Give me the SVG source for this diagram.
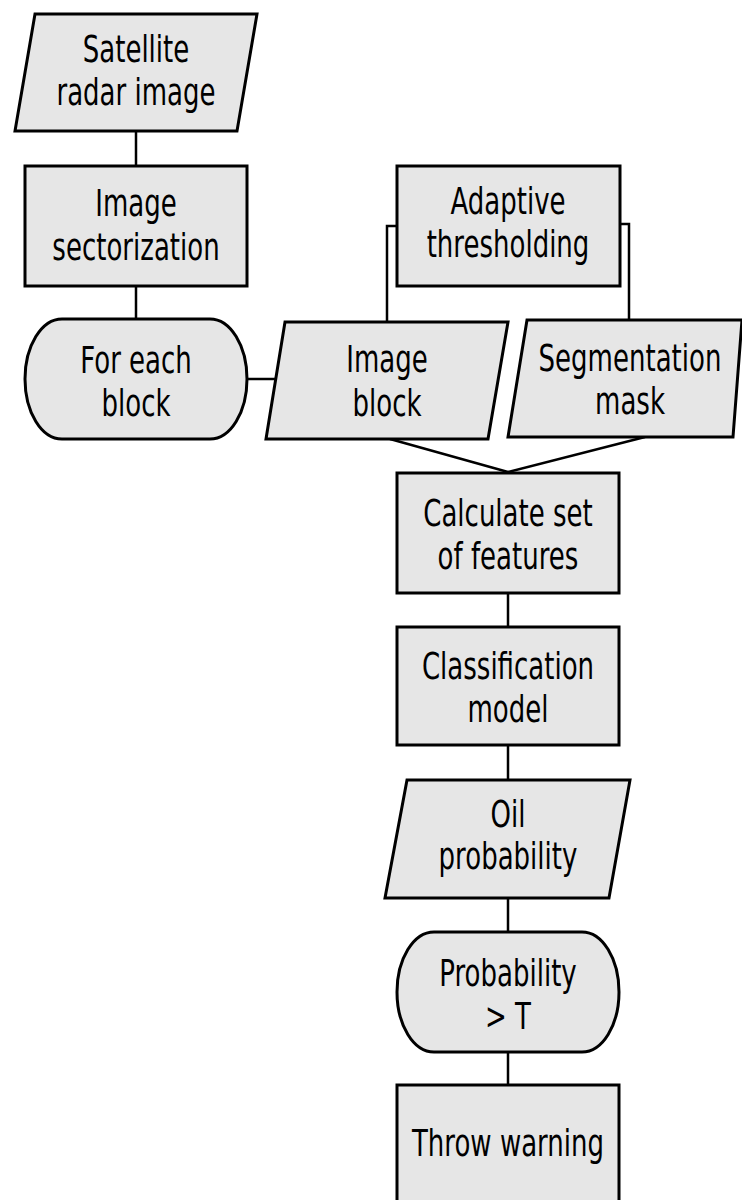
<svg xmlns="http://www.w3.org/2000/svg" width="742" height="1200" viewBox="0 0 742 1200">
<style>
.s{fill:#e6e6e6;stroke:#000;stroke-width:3;stroke-linejoin:miter}
.c{fill:none;stroke:#000;stroke-width:2.5}
text{font-family:"DejaVu Sans",sans-serif;font-size:38px;text-anchor:middle;fill:#000}
</style>
<rect width="742" height="1200" fill="#fff"/>
<g id="connectors">
<line class="c" x1="136" y1="132" x2="136" y2="166"/>
<line class="c" x1="136" y1="286" x2="136" y2="320"/>
<line class="c" x1="248" y1="379" x2="276" y2="379"/>
<polyline class="c" points="387,322 387,226 397,226"/>
<polyline class="c" points="629,320 629,224 620,224"/>
<line class="c" x1="390" y1="439" x2="508" y2="472"/>
<line class="c" x1="645" y1="437" x2="508" y2="472"/>
<line class="c" x1="508" y1="593" x2="508" y2="627"/>
<line class="c" x1="508" y1="745" x2="508" y2="780"/>
<line class="c" x1="508" y1="898" x2="508" y2="932"/>
<line class="c" x1="508" y1="1052" x2="508" y2="1085"/>
</g>
<g id="n1">
<polygon class="s" points="35,14 257,14 237,131 15,131"/>
<g transform="translate(136,0) scale(0.685,1)"><text x="0" y="62">Satellite</text><text x="0" y="105">radar image</text></g>
</g>
<g id="n2">
<rect class="s" x="25" y="166" width="222" height="120"/>
<g transform="translate(136,0) scale(0.685,1)"><text x="0" y="216">Image</text><text x="0" y="260">sectorization</text></g>
</g>
<g id="n3">
<rect class="s" x="25" y="319" width="222" height="120" rx="37" ry="60"/>
<g transform="translate(136,0) scale(0.685,1)"><text x="0" y="373">For each</text><text x="0" y="416">block</text></g>
</g>
<g id="n4">
<polygon class="s" points="285,322 508,322 488,439 266,439"/>
<g transform="translate(387,0) scale(0.685,1)"><text x="0" y="372">Image</text><text x="0" y="416">block</text></g>
</g>
<g id="n5">
<rect class="s" x="397" y="166" width="223" height="120"/>
<g transform="translate(508,0) scale(0.685,1)"><text x="0" y="214">Adaptive</text><text x="0" y="257">thresholding</text></g>
</g>
<g id="n6">
<polygon class="s" points="527,320 742,320 733,437 508,437"/>
<g transform="translate(630,0) scale(0.685,1)"><text x="0" y="371">Segmentation</text><text x="0" y="414">mask</text></g>
</g>
<g id="n7">
<rect class="s" x="397" y="473" width="222" height="120"/>
<g transform="translate(508,0) scale(0.685,1)"><text x="0" y="526">Calculate set</text><text x="0" y="569">of features</text></g>
</g>
<g id="n8">
<rect class="s" x="397" y="627" width="222" height="118"/>
<g transform="translate(508,0) scale(0.685,1)"><text x="0" y="679">Classification</text><text x="0" y="722">model</text></g>
</g>
<g id="n9">
<polygon class="s" points="407,780 630,780 609,898 385,898"/>
<g transform="translate(508,0) scale(0.685,1)"><text x="0" y="827">Oil</text><text x="0" y="869">probability</text></g>
</g>
<g id="n10">
<rect class="s" x="397" y="932" width="222" height="120" rx="37" ry="60"/>
<g transform="translate(508,0) scale(0.685,1)"><text x="0" y="986">Probability</text><text x="0" y="1029">&gt; T</text></g>
</g>
<g id="n11">
<rect class="s" x="397" y="1085" width="222" height="125"/>
<g transform="translate(508,0) scale(0.685,1)"><text x="0" y="1156">Throw warning</text></g>
</g>
</svg>
